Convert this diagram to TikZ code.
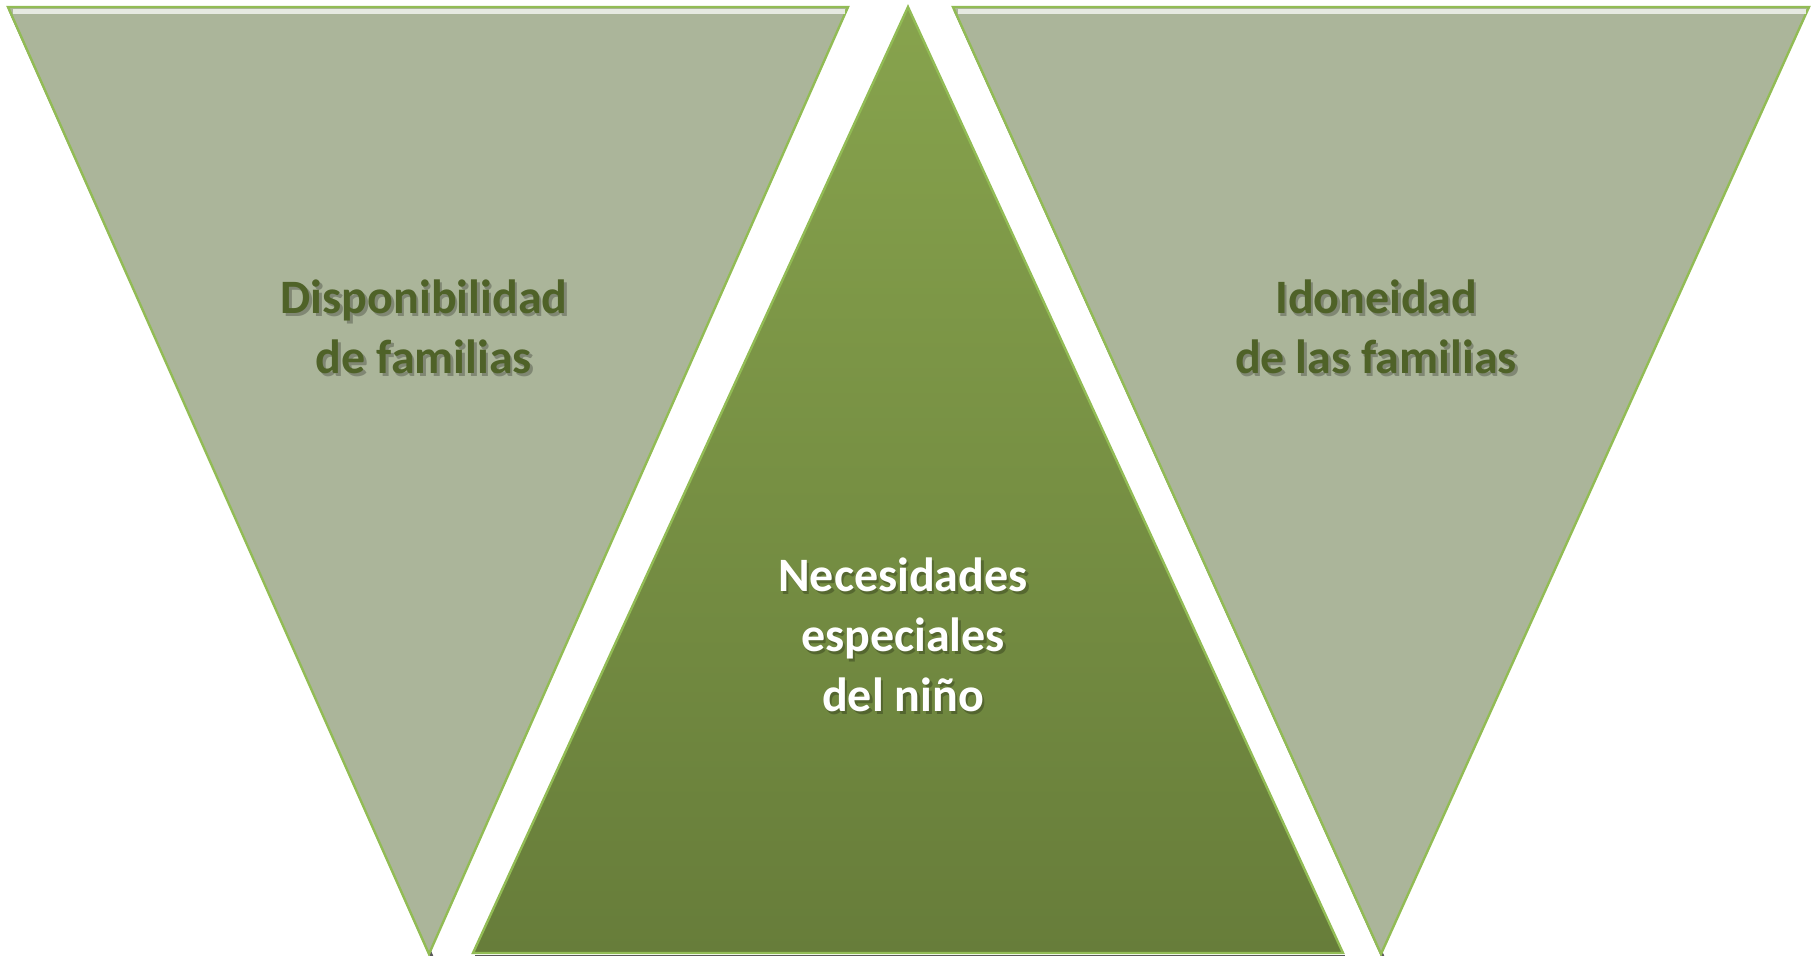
\documentclass[tikz,border=0pt]{standalone}
\usepackage{xcolor}
\usepackage{fontspec}
\setmainfont{Carlito}
\usepackage{tikz}
\usetikzlibrary{positioning}

\definecolor{ladoverde}{HTML}{ABB59A}
\definecolor{bordeverde}{HTML}{92BC55}
\definecolor{textoverde}{HTML}{4F6228}
\definecolor{centroarriba}{HTML}{87A34D}
\definecolor{centroabajo}{HTML}{677D3A}

\begin{document}
\begin{tikzpicture}[x=0.5pt, y=-0.5pt,
    lado/.style={fill=ladoverde, draw=bordeverde, line width=1.2pt, line join=miter},
    centro/.style={top color=centroarriba, bottom color=centroabajo, draw=bordeverde, line width=1.2pt},
    sombra/.style={draw=black!65, line width=1.6pt},
    titulo/.style={font=\bfseries\fontsize{24}{30}\selectfont, align=center, text=textoverde},
    titulob/.style={font=\bfseries\fontsize{24}{30}\selectfont, align=center, text=white},
    sombratxt/.style={font=\bfseries\fontsize{24}{30}\selectfont, align=center, text=black, text opacity=0.25}]
    \useasboundingbox (0,0) rectangle (1811,956);

    % Sombras de los triangulos
    \draw[sombra] (10,10) -- (432,957);
    \draw[sombra] (955,10) -- (1383,957);
    \draw[sombra] (475,957) -- (1345,957);

    % Triangulos laterales (invertidos)
    \draw[lado] (8,7) -- (848,7) -- (429,954) -- cycle;
    \draw[lado] (953,7) -- (1809,7) -- (1381,954) -- cycle;
    \draw[white!70!ladoverde, line width=2.5pt] (13,11.5) -- (845,11.5);
    \draw[white!70!ladoverde, line width=2.5pt] (958,11.5) -- (1806,11.5);

    % Triangulo central
    \draw[centro] (908,7) -- (1343,953) -- (473,953) -- cycle;

    % Sombras de los textos
    \foreach \x/\y/\texto in {424/327/{Disponibilidad\\de familias}, 1376/327/{Idoneidad\\de las familias}}
        \node[sombratxt] at (\x+2.5,\y+3) {\texto};
    \node[sombratxt] at (905.5,638) {Necesidades\\especiales\\del niño};

    % Textos
    \node[titulo] (disp) at (424,327) {Disponibilidad\\de familias};
    \node[titulo] (idon) at (1376,327) {Idoneidad\\de las familias};
    \node[titulob] (nec) at (903,635) {Necesidades\\especiales\\del niño};
\end{tikzpicture}
\end{document}
